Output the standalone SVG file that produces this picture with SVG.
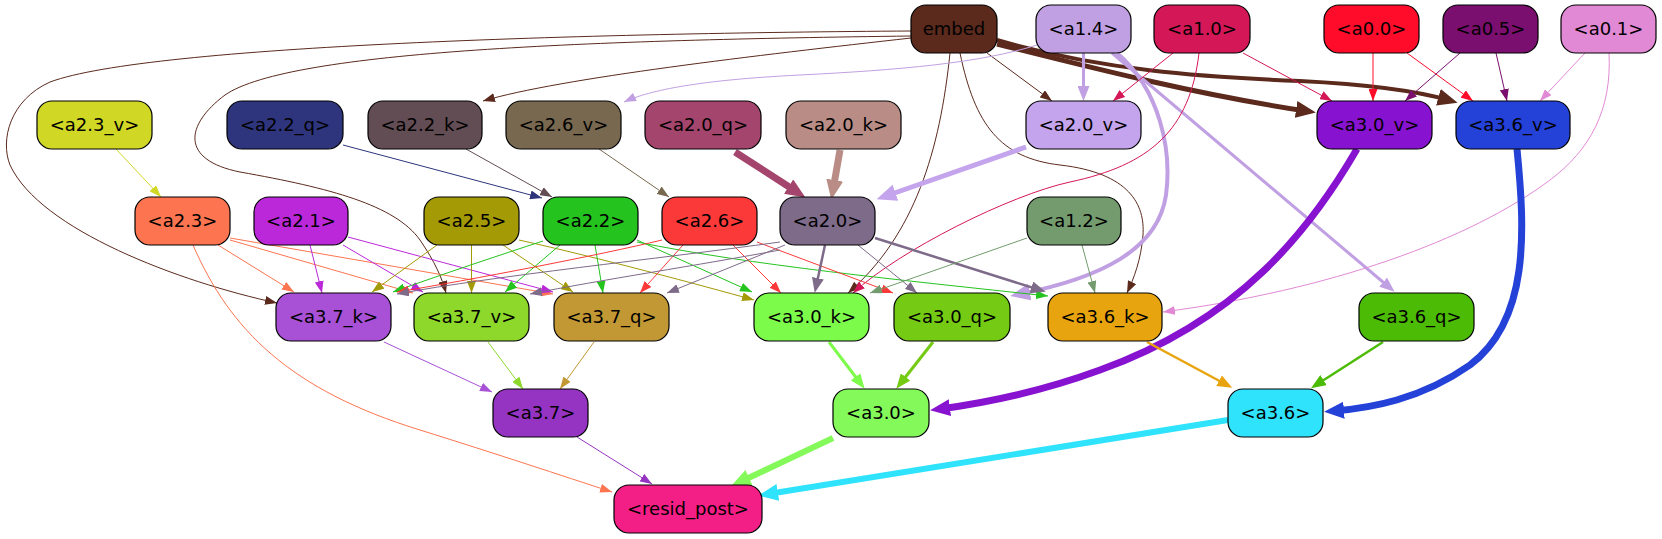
<svg xmlns="http://www.w3.org/2000/svg" width="1662" height="539" viewBox="0 0 1662 539">
<style>
.n rect{stroke:#000;stroke-width:1.2}
.n text{font-family:"DejaVu Sans","Liberation Sans",sans-serif;font-size:18px;text-anchor:middle;fill:#000}
#edges path{fill:none}
</style>
<defs>
<marker id="t-brown" viewBox="0 0 12 9" refX="12" refY="4.5" markerWidth="12" markerHeight="9" markerUnits="userSpaceOnUse" orient="auto"><path d="M0,0L12,4.5L0,9z" fill="#5b2a1d"/></marker>
<marker id="k-brown" viewBox="0 0 20 17" refX="10" refY="8.5" markerWidth="20" markerHeight="17" markerUnits="userSpaceOnUse" orient="auto"><path d="M0,0L20,8.5L0,17z" fill="#5b2a1d"/></marker>
<marker id="t-lav" viewBox="0 0 12 9" refX="12" refY="4.5" markerWidth="12" markerHeight="9" markerUnits="userSpaceOnUse" orient="auto"><path d="M0,0L12,4.5L0,9z" fill="#c0a0e2"/></marker>
<marker id="m-lav" viewBox="0 0 15 12" refX="9" refY="6" markerWidth="15" markerHeight="12" markerUnits="userSpaceOnUse" orient="auto"><path d="M0,0L15,6L0,12z" fill="#c0a0e2"/></marker>
<marker id="k-lav" viewBox="0 0 20 17" refX="10" refY="8.5" markerWidth="20" markerHeight="17" markerUnits="userSpaceOnUse" orient="auto"><path d="M0,0L20,8.5L0,17z" fill="#c0a0e2"/></marker>
<marker id="t-crim" viewBox="0 0 12 9" refX="12" refY="4.5" markerWidth="12" markerHeight="9" markerUnits="userSpaceOnUse" orient="auto"><path d="M0,0L12,4.5L0,9z" fill="#d41757"/></marker>
<marker id="t-red0" viewBox="0 0 12 9" refX="12" refY="4.5" markerWidth="12" markerHeight="9" markerUnits="userSpaceOnUse" orient="auto"><path d="M0,0L12,4.5L0,9z" fill="#fe0c2a"/></marker>
<marker id="t-purp" viewBox="0 0 12 9" refX="12" refY="4.5" markerWidth="12" markerHeight="9" markerUnits="userSpaceOnUse" orient="auto"><path d="M0,0L12,4.5L0,9z" fill="#7b0f6f"/></marker>
<marker id="t-pink" viewBox="0 0 12 9" refX="12" refY="4.5" markerWidth="12" markerHeight="9" markerUnits="userSpaceOnUse" orient="auto"><path d="M0,0L12,4.5L0,9z" fill="#e289d5"/></marker>
<marker id="t-yg" viewBox="0 0 12 9" refX="12" refY="4.5" markerWidth="12" markerHeight="9" markerUnits="userSpaceOnUse" orient="auto"><path d="M0,0L12,4.5L0,9z" fill="#d0d825"/></marker>
<marker id="t-navy" viewBox="0 0 12 9" refX="12" refY="4.5" markerWidth="12" markerHeight="9" markerUnits="userSpaceOnUse" orient="auto"><path d="M0,0L12,4.5L0,9z" fill="#2e357d"/></marker>
<marker id="t-gb" viewBox="0 0 12 9" refX="12" refY="4.5" markerWidth="12" markerHeight="9" markerUnits="userSpaceOnUse" orient="auto"><path d="M0,0L12,4.5L0,9z" fill="#634d55"/></marker>
<marker id="t-olb" viewBox="0 0 12 9" refX="12" refY="4.5" markerWidth="12" markerHeight="9" markerUnits="userSpaceOnUse" orient="auto"><path d="M0,0L12,4.5L0,9z" fill="#77684f"/></marker>
<marker id="k-a20q" viewBox="0 0 20 17" refX="10" refY="8.5" markerWidth="20" markerHeight="17" markerUnits="userSpaceOnUse" orient="auto"><path d="M0,0L20,8.5L0,17z" fill="#a3456c"/></marker>
<marker id="k-a20k" viewBox="0 0 20 17" refX="10" refY="8.5" markerWidth="20" markerHeight="17" markerUnits="userSpaceOnUse" orient="auto"><path d="M0,0L20,8.5L0,17z" fill="#b98d86"/></marker>
<marker id="k-a20v" viewBox="0 0 20 17" refX="10" refY="8.5" markerWidth="20" markerHeight="17" markerUnits="userSpaceOnUse" orient="auto"><path d="M0,0L20,8.5L0,17z" fill="#c4a4ec"/></marker>
<marker id="k-a30v" viewBox="0 0 20 17" refX="10" refY="8.5" markerWidth="20" markerHeight="17" markerUnits="userSpaceOnUse" orient="auto"><path d="M0,0L20,8.5L0,17z" fill="#8713d0"/></marker>
<marker id="k-a36v" viewBox="0 0 20 17" refX="10" refY="8.5" markerWidth="20" markerHeight="17" markerUnits="userSpaceOnUse" orient="auto"><path d="M0,0L20,8.5L0,17z" fill="#2441d8"/></marker>
<marker id="t-or" viewBox="0 0 12 9" refX="12" refY="4.5" markerWidth="12" markerHeight="9" markerUnits="userSpaceOnUse" orient="auto"><path d="M0,0L12,4.5L0,9z" fill="#fc7550"/></marker>
<marker id="t-mag" viewBox="0 0 12 9" refX="12" refY="4.5" markerWidth="12" markerHeight="9" markerUnits="userSpaceOnUse" orient="auto"><path d="M0,0L12,4.5L0,9z" fill="#bb28da"/></marker>
<marker id="t-ol" viewBox="0 0 12 9" refX="12" refY="4.5" markerWidth="12" markerHeight="9" markerUnits="userSpaceOnUse" orient="auto"><path d="M0,0L12,4.5L0,9z" fill="#a39a06"/></marker>
<marker id="t-gr" viewBox="0 0 12 9" refX="12" refY="4.5" markerWidth="12" markerHeight="9" markerUnits="userSpaceOnUse" orient="auto"><path d="M0,0L12,4.5L0,9z" fill="#24c31e"/></marker>
<marker id="t-r6" viewBox="0 0 12 9" refX="12" refY="4.5" markerWidth="12" markerHeight="9" markerUnits="userSpaceOnUse" orient="auto"><path d="M0,0L12,4.5L0,9z" fill="#fc3939"/></marker>
<marker id="t-gp" viewBox="0 0 12 9" refX="12" refY="4.5" markerWidth="12" markerHeight="9" markerUnits="userSpaceOnUse" orient="auto"><path d="M0,0L12,4.5L0,9z" fill="#7e6a89"/></marker>
<marker id="m-gp" viewBox="0 0 15 12" refX="9" refY="6" markerWidth="15" markerHeight="12" markerUnits="userSpaceOnUse" orient="auto"><path d="M0,0L15,6L0,12z" fill="#7e6a89"/></marker>
<marker id="t-sg" viewBox="0 0 12 9" refX="12" refY="4.5" markerWidth="12" markerHeight="9" markerUnits="userSpaceOnUse" orient="auto"><path d="M0,0L12,4.5L0,9z" fill="#739b6e"/></marker>
<marker id="t-a37k" viewBox="0 0 12 9" refX="12" refY="4.5" markerWidth="12" markerHeight="9" markerUnits="userSpaceOnUse" orient="auto"><path d="M0,0L12,4.5L0,9z" fill="#a851d6"/></marker>
<marker id="t-a37v" viewBox="0 0 12 9" refX="12" refY="4.5" markerWidth="12" markerHeight="9" markerUnits="userSpaceOnUse" orient="auto"><path d="M0,0L12,4.5L0,9z" fill="#8dd82a"/></marker>
<marker id="t-a37q" viewBox="0 0 12 9" refX="12" refY="4.5" markerWidth="12" markerHeight="9" markerUnits="userSpaceOnUse" orient="auto"><path d="M0,0L12,4.5L0,9z" fill="#c29834"/></marker>
<marker id="m-a30k" viewBox="0 0 15 12" refX="9" refY="6" markerWidth="15" markerHeight="12" markerUnits="userSpaceOnUse" orient="auto"><path d="M0,0L15,6L0,12z" fill="#7dfb4b"/></marker>
<marker id="m-a30q" viewBox="0 0 15 12" refX="9" refY="6" markerWidth="15" markerHeight="12" markerUnits="userSpaceOnUse" orient="auto"><path d="M0,0L15,6L0,12z" fill="#75cb14"/></marker>
<marker id="m-a36k" viewBox="0 0 15 12" refX="9" refY="6" markerWidth="15" markerHeight="12" markerUnits="userSpaceOnUse" orient="auto"><path d="M0,0L15,6L0,12z" fill="#e8a40f"/></marker>
<marker id="m-a36q" viewBox="0 0 15 12" refX="9" refY="6" markerWidth="15" markerHeight="12" markerUnits="userSpaceOnUse" orient="auto"><path d="M0,0L15,6L0,12z" fill="#4cbb06"/></marker>
<marker id="t-a37" viewBox="0 0 12 9" refX="12" refY="4.5" markerWidth="12" markerHeight="9" markerUnits="userSpaceOnUse" orient="auto"><path d="M0,0L12,4.5L0,9z" fill="#9533c2"/></marker>
<marker id="k-a30" viewBox="0 0 20 17" refX="10" refY="8.5" markerWidth="20" markerHeight="17" markerUnits="userSpaceOnUse" orient="auto"><path d="M0,0L20,8.5L0,17z" fill="#84f95a"/></marker>
<marker id="k-a36" viewBox="0 0 20 17" refX="10" refY="8.5" markerWidth="20" markerHeight="17" markerUnits="userSpaceOnUse" orient="auto"><path d="M0,0L20,8.5L0,17z" fill="#2fe3fc"/></marker>
</defs>
<rect width="1662" height="539" fill="#fff"/>
<g id="edges">
<g stroke="#5b2a1d">
<path d="M911,31 C600,33 150,45 50,82 C10,100 0,140 10,165 C40,230 180,282 277,303" marker-end="url(#t-brown)"/>
<path d="M911,36 C600,40 290,50 225,95 C185,125 180,160 240,172 C330,188 395,205 420,240 C435,262 442,278 446,293" marker-end="url(#t-brown)"/>
<path d="M911,38 C760,55 560,78 483,101" marker-end="url(#t-brown)"/>
<path d="M950,53 C940,150 915,235 848,293" marker-end="url(#t-brown)"/>
<path d="M960,53 C975,125 1000,158 1060,165 C1130,173 1145,205 1143,235 C1141,260 1134,278 1127,293" marker-end="url(#t-brown)"/>
<path d="M987,53 L1052,101" marker-end="url(#t-brown)"/>
<path d="M997,44 C1100,70 1200,95 1306,111" stroke-width="5" marker-end="url(#k-brown)"/>
<path d="M997,40 C1100,70 1200,77 1300,81 C1380,85 1420,92 1448,100" stroke-width="4" marker-end="url(#k-brown)"/>
</g>
<g stroke="#c0a0e2">
<path d="M1037,45 C980,63 900,70 800,75 C700,80 650,90 624,102" marker-end="url(#t-lav)"/>
<path d="M1083.5,53 L1083.5,95" stroke-width="3" marker-end="url(#m-lav)"/>
<path d="M1117,53 C1160,90 1172,150 1166,195 C1158,250 1100,278 1020,294" stroke-width="4" marker-end="url(#k-lav)"/>
<path d="M1112,53 L1390,288" stroke-width="3" marker-end="url(#m-lav)"/>
</g>
<g stroke="#d41757">
<path d="M1173,53 L1113,101" marker-end="url(#t-crim)"/>
<path d="M1243,53 L1332,101" marker-end="url(#t-crim)"/>
<path d="M1199,53 C1190,130 1150,165 1070,182 C1010,195 900,250 853,293" marker-end="url(#t-crim)"/>
</g>
<path d="M1373,53 L1373,101" stroke="#fe0c2a" marker-end="url(#t-red0)"/>
<path d="M1407,53 L1473,101" stroke="#fe0c2a" marker-end="url(#t-red0)"/>
<path d="M1460,53 L1405,101" stroke="#7b0f6f" marker-end="url(#t-purp)"/>
<path d="M1496,53 L1507,101" stroke="#7b0f6f" marker-end="url(#t-purp)"/>
<path d="M1585,53 L1540,101" stroke="#e289d5" marker-end="url(#t-pink)"/>
<path d="M1609,53 C1612,110 1590,150 1550,180 C1470,240 1330,290 1163,312" stroke="#e289d5" marker-end="url(#t-pink)"/>
<path d="M116,149 L161,197" stroke="#d0d825" marker-end="url(#t-yg)"/>
<path d="M343,145 L542,198" stroke="#2e357d" marker-end="url(#t-navy)"/>
<path d="M466,149 L552,197" stroke="#634d55" marker-end="url(#t-gb)"/>
<path d="M599,149 L669,197" stroke="#77684f" marker-end="url(#t-olb)"/>
<path d="M735,152 L797,192" stroke="#a3456c" stroke-width="7" marker-end="url(#k-a20q)"/>
<path d="M840,150 L833,190" stroke="#b98d86" stroke-width="7" marker-end="url(#k-a20k)"/>
<path d="M1026,147 L886,196" stroke="#c4a4ec" stroke-width="5" marker-end="url(#k-a20v)"/>
<path d="M1357,149 C1310,230 1240,320 1100,370 C1040,392 985,403 940,409" stroke="#8713d0" stroke-width="7" marker-end="url(#k-a30v)"/>
<path d="M1517,149 C1525,230 1530,320 1470,365 C1420,400 1370,408 1334,411" stroke="#2441d8" stroke-width="7" marker-end="url(#k-a36v)"/>
<g stroke="#fc7550">
<path d="M218,245 L294,292" marker-end="url(#t-or)"/>
<path d="M230,240 L413,293" marker-end="url(#t-or)"/>
<path d="M230,238 L553,294" marker-end="url(#t-or)"/>
<path d="M193,245 C230,330 290,390 420,430 C500,455 560,475 612,492" marker-end="url(#t-or)"/>
</g>
<g stroke="#bb28da">
<path d="M310,245 L322,293" marker-end="url(#t-mag)"/>
<path d="M343,245 L423,292" marker-end="url(#t-mag)"/>
<path d="M348,237 L553,292" marker-end="url(#t-mag)"/>
</g>
<g stroke="#a39a06">
<path d="M437,245 L372,292" marker-end="url(#t-ol)"/>
<path d="M471.5,245 L471.5,293" marker-end="url(#t-ol)"/>
<path d="M503,245 L573,292" marker-end="url(#t-ol)"/>
<path d="M519,240 C600,258 700,285 754,300" marker-end="url(#t-ol)"/>
</g>
<g stroke="#24c31e">
<path d="M543,241 C500,255 440,275 393,292" marker-end="url(#t-gr)"/>
<path d="M560,245 L505,292" marker-end="url(#t-gr)"/>
<path d="M595,245 L603,293" marker-end="url(#t-gr)"/>
<path d="M637,240 L752,292" marker-end="url(#t-gr)"/>
<path d="M637,242 C750,265 900,280 1048,296" marker-end="url(#t-gr)"/>
</g>
<g stroke="#fc3939">
<path d="M662,240 C600,255 470,280 397,292" marker-end="url(#t-r6)"/>
<path d="M683,245 L640,293" marker-end="url(#t-r6)"/>
<path d="M733,245 L781,293" marker-end="url(#t-r6)"/>
<path d="M757,242 L893,293" marker-end="url(#t-r6)"/>
</g>
<g stroke="#7e6a89">
<path d="M780,242 C650,260 500,275 397,294" marker-end="url(#t-gp)"/>
<path d="M780,250 C700,265 600,280 530,294" marker-end="url(#t-gp)"/>
<path d="M785,245 L667,293" marker-end="url(#t-gp)"/>
<path d="M825,245 L816,287" stroke-width="2.5" marker-end="url(#m-gp)"/>
<path d="M858,245 L917,293" marker-end="url(#t-gp)"/>
<path d="M875,238 L1040,290" stroke-width="2.5" marker-end="url(#m-gp)"/>
</g>
<path d="M1027,238 L870,293" stroke="#739b6e" marker-end="url(#t-sg)"/>
<path d="M1082,245 L1095,293" stroke="#739b6e" marker-end="url(#t-sg)"/>
<path d="M384,342 L492,392" stroke="#a851d6" marker-end="url(#t-a37k)"/>
<path d="M488,342 L523,389" stroke="#8dd82a" marker-end="url(#t-a37v)"/>
<path d="M594,342 L560,389" stroke="#c29834" marker-end="url(#t-a37q)"/>
<path d="M829,342 L861,384" stroke="#7dfb4b" stroke-width="3" marker-end="url(#m-a30k)"/>
<path d="M933,342 L900,384" stroke="#75cb14" stroke-width="3" marker-end="url(#m-a30q)"/>
<path d="M1147,342 L1227,385" stroke="#e8a40f" stroke-width="2.5" marker-end="url(#m-a36k)"/>
<path d="M1383,342 L1316,385" stroke="#4cbb06" stroke-width="2.5" marker-end="url(#m-a36q)"/>
<path d="M577,437 L652,484" stroke="#9533c2" marker-end="url(#t-a37)"/>
<path d="M833,438 L740,482" stroke="#84f95a" stroke-width="6" marker-end="url(#k-a30)"/>
<path d="M1228,420 L768,494" stroke="#2fe3fc" stroke-width="6" marker-end="url(#k-a36)"/>
</g>
<g id="embed" class="n"><rect x="911" y="5" width="86" height="48" rx="15" fill="#5b2a1d"/><text x="954" y="35">embed</text></g>
<g id="a1.4" class="n"><rect x="1036" y="5" width="95" height="48" rx="15" fill="#c0a0e2"/><text x="1083.5" y="35">&lt;a1.4&gt;</text></g>
<g id="a1.0" class="n"><rect x="1154" y="5" width="96" height="48" rx="15" fill="#d41757"/><text x="1202" y="35">&lt;a1.0&gt;</text></g>
<g id="a0.0" class="n"><rect x="1324" y="5" width="95" height="48" rx="15" fill="#fe0c2a"/><text x="1371.5" y="35">&lt;a0.0&gt;</text></g>
<g id="a0.5" class="n"><rect x="1443" y="5" width="95" height="48" rx="15" fill="#7b0f6f"/><text x="1490.5" y="35">&lt;a0.5&gt;</text></g>
<g id="a0.1" class="n"><rect x="1561" y="5" width="95" height="48" rx="15" fill="#e289d5"/><text x="1608.5" y="35">&lt;a0.1&gt;</text></g>
<g id="a2.3_v" class="n"><rect x="37" y="101" width="115" height="48" rx="15" fill="#d0d825"/><text x="94.5" y="131">&lt;a2.3_v&gt;</text></g>
<g id="a2.2_q" class="n"><rect x="227" y="101" width="116" height="48" rx="15" fill="#2e357d"/><text x="285" y="131">&lt;a2.2_q&gt;</text></g>
<g id="a2.2_k" class="n"><rect x="368" y="101" width="114" height="48" rx="15" fill="#634d55"/><text x="425" y="131">&lt;a2.2_k&gt;</text></g>
<g id="a2.6_v" class="n"><rect x="506" y="101" width="115" height="48" rx="15" fill="#77684f"/><text x="563.5" y="131">&lt;a2.6_v&gt;</text></g>
<g id="a2.0_q" class="n"><rect x="645" y="101" width="116" height="48" rx="15" fill="#a3456c"/><text x="703" y="131">&lt;a2.0_q&gt;</text></g>
<g id="a2.0_k" class="n"><rect x="786" y="101" width="115" height="48" rx="15" fill="#b98d86"/><text x="843.5" y="131">&lt;a2.0_k&gt;</text></g>
<g id="a2.0_v" class="n"><rect x="1026" y="101" width="115" height="48" rx="15" fill="#c4a4ec"/><text x="1083.5" y="131">&lt;a2.0_v&gt;</text></g>
<g id="a3.0_v" class="n"><rect x="1317" y="101" width="115" height="48" rx="15" fill="#8713d0"/><text x="1374.5" y="131">&lt;a3.0_v&gt;</text></g>
<g id="a3.6_v" class="n"><rect x="1456" y="101" width="114" height="48" rx="15" fill="#2441d8"/><text x="1513" y="131">&lt;a3.6_v&gt;</text></g>
<g id="a2.3" class="n"><rect x="135" y="197" width="95" height="48" rx="15" fill="#fc7550"/><text x="182.5" y="227">&lt;a2.3&gt;</text></g>
<g id="a2.1" class="n"><rect x="254" y="197" width="94" height="48" rx="15" fill="#bb28da"/><text x="301" y="227">&lt;a2.1&gt;</text></g>
<g id="a2.5" class="n"><rect x="424" y="197" width="95" height="48" rx="15" fill="#a39a06"/><text x="471.5" y="227">&lt;a2.5&gt;</text></g>
<g id="a2.2" class="n"><rect x="543" y="197" width="95" height="48" rx="15" fill="#24c31e"/><text x="590.5" y="227">&lt;a2.2&gt;</text></g>
<g id="a2.6" class="n"><rect x="662" y="197" width="95" height="48" rx="15" fill="#fc3939"/><text x="709.5" y="227">&lt;a2.6&gt;</text></g>
<g id="a2.0" class="n"><rect x="780" y="197" width="95" height="48" rx="15" fill="#7e6a89"/><text x="827.5" y="227">&lt;a2.0&gt;</text></g>
<g id="a1.2" class="n"><rect x="1027" y="197" width="94" height="48" rx="15" fill="#739b6e"/><text x="1074" y="227">&lt;a1.2&gt;</text></g>
<g id="a3.7_k" class="n"><rect x="276" y="293" width="115" height="48" rx="15" fill="#a851d6"/><text x="333.5" y="323">&lt;a3.7_k&gt;</text></g>
<g id="a3.7_v" class="n"><rect x="414" y="293" width="115" height="48" rx="15" fill="#8dd82a"/><text x="471.5" y="323">&lt;a3.7_v&gt;</text></g>
<g id="a3.7_q" class="n"><rect x="554" y="293" width="115" height="48" rx="15" fill="#c29834"/><text x="611.5" y="323">&lt;a3.7_q&gt;</text></g>
<g id="a3.0_k" class="n"><rect x="754" y="293" width="115" height="48" rx="15" fill="#7dfb4b"/><text x="811.5" y="323">&lt;a3.0_k&gt;</text></g>
<g id="a3.0_q" class="n"><rect x="894" y="293" width="116" height="48" rx="15" fill="#75cb14"/><text x="952" y="323">&lt;a3.0_q&gt;</text></g>
<g id="a3.6_k" class="n"><rect x="1048" y="293" width="114" height="48" rx="15" fill="#e8a40f"/><text x="1105" y="323">&lt;a3.6_k&gt;</text></g>
<g id="a3.6_q" class="n"><rect x="1359" y="293" width="115" height="48" rx="15" fill="#4cbb06"/><text x="1416.5" y="323">&lt;a3.6_q&gt;</text></g>
<g id="a3.7" class="n"><rect x="493" y="389" width="95" height="48" rx="15" fill="#9533c2"/><text x="540.5" y="419">&lt;a3.7&gt;</text></g>
<g id="a3.0" class="n"><rect x="833" y="389" width="96" height="48" rx="15" fill="#84f95a"/><text x="881" y="419">&lt;a3.0&gt;</text></g>
<g id="a3.6" class="n"><rect x="1228" y="389" width="95" height="48" rx="15" fill="#2fe3fc"/><text x="1275.5" y="419">&lt;a3.6&gt;</text></g>
<g id="resid_post" class="n"><rect x="614" y="485" width="148" height="48" rx="15" fill="#f41f86"/><text x="688" y="515">&lt;resid_post&gt;</text></g>
</svg>
